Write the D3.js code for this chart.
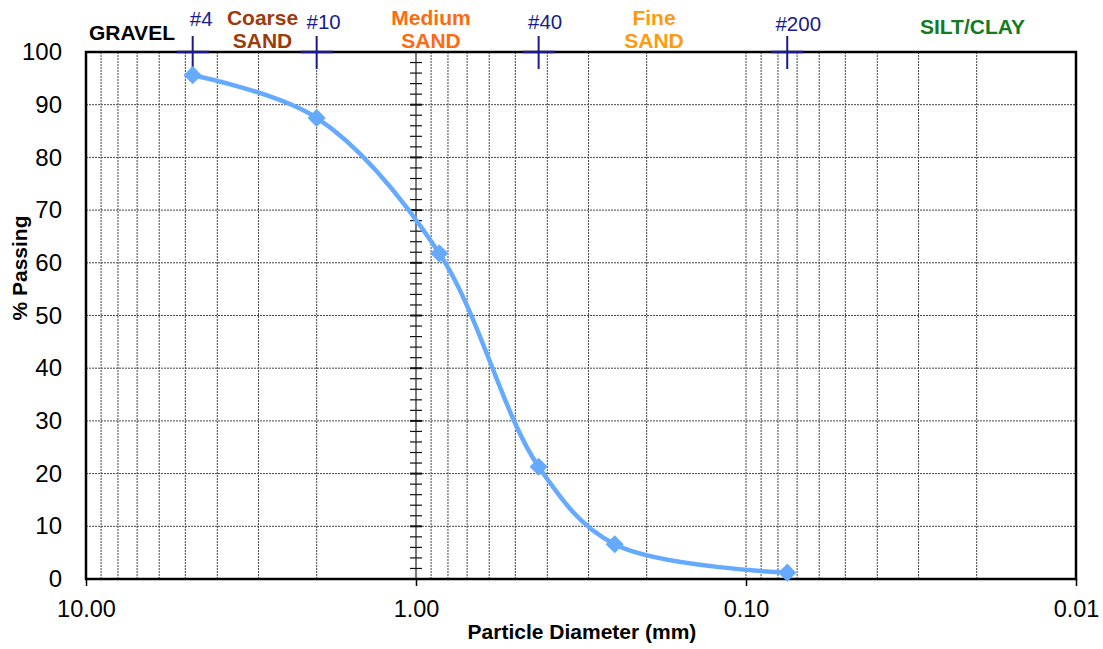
<!DOCTYPE html>
<html>
<head>
<meta charset="utf-8">
<script src="https://cdn.jsdelivr.net/npm/d3@7"></script>
<style>
  body { margin: 0; background: #fff; }
  text { font-family: "Liberation Sans", Arial, sans-serif; }
</style>
</head>
<body>
<svg id="chart" width="1103" height="649"></svg>
<script>
// sieve analysis data
const diameters = [4.75, 2.0, 0.85, 0.425, 0.25, 0.075];
const passing = [95.6, 87.5, 61.8, 21.3, 6.6, 1.2];

const sieveNames = ["#4", "#10", "#40", "#200"];
const sieveSizes = [4.75, 2.0, 0.425, 0.075];

const xTicks = [10, 1, 0.1, 0.01];
const yTicks = d3.range(0, 101, 10);

const svg = d3.select("#chart");
const plotL = 86, plotR = 1076, plotT = 52, plotB = 579;

const x = d3.scaleLog().domain([10, 0.01]).range([plotL, plotR]);
const y = d3.scaleLinear().domain([0, 100]).range([plotB, plotT]);

// minor vertical grid (2..9 of every decade)
const minor = [];
[1, 0.1, 0.01].forEach(dec => {
  for (let k = 1; k <= 9; k++) minor.push(dec * k);
});
const vGrid = minor.filter(v => v < 10 && v > 0.01 && Math.abs(v - 1) > 1e-9);

svg.append("g")
  .selectAll("line")
  .data(vGrid)
  .enter()
  .append("line")
  .attr("x1", d => x(d)).attr("x2", d => x(d))
  .attr("y1", plotT).attr("y2", plotB)
  .attr("stroke", "#444")
  .attr("stroke-width", 1)
  .attr("stroke-dasharray", "2,1");

// horizontal grid
svg.append("g")
  .selectAll("line")
  .data(yTicks.filter(d => d > 0 && d < 100))
  .enter()
  .append("line")
  .attr("x1", plotL).attr("x2", plotR)
  .attr("y1", d => y(d)).attr("y2", d => y(d))
  .attr("stroke", "#444")
  .attr("stroke-width", 1)
  .attr("stroke-dasharray", "2,1");

// vertical line at 1.00 with ticks every 2 %
svg.append("line")
  .attr("x1", x(1)).attr("x2", x(1))
  .attr("y1", plotT).attr("y2", plotB)
  .attr("stroke", "#7a7a7a").attr("stroke-width", 2);

svg.append("g")
  .selectAll("line")
  .data(d3.range(2, 100, 2))
  .enter()
  .append("line")
  .attr("x1", x(1) - 6).attr("x2", x(1) + 6)
  .attr("y1", d => y(d)).attr("y2", d => y(d))
  .attr("stroke", "#111")
  .attr("stroke-width", d => d % 10 === 0 ? 2 : 1.2);

// plot border
svg.append("rect")
  .attr("x", plotL).attr("y", plotT)
  .attr("width", plotR - plotL).attr("height", plotB - plotT)
  .attr("fill", "none").attr("stroke", "#000").attr("stroke-width", 2.5);

// y axis
const yAxis = d3.axisLeft(y).tickValues(yTicks).tickSize(0).tickPadding(24);
svg.append("g")
  .attr("transform", `translate(${plotL},0)`)
  .call(yAxis)
  .call(g => g.select(".domain").remove())
  .selectAll("text")
  .attr("font-size", 24)
  .attr("fill", "#000")
  .attr("font-family", "Liberation Sans, Arial, sans-serif");

// x axis
const xAxis = d3.axisBottom(x).tickValues(xTicks).tickSize(7).tickPadding(14)
  .tickFormat(d3.format(".2f"));
svg.append("g")
  .attr("transform", `translate(0,${plotB})`)
  .call(xAxis)
  .call(g => g.select(".domain").remove())
  .call(g => g.selectAll("line").attr("stroke", "#000").attr("stroke-width", 1.5))
  .selectAll("text")
  .attr("font-size", 23.5)
  .attr("fill", "#000")
  .attr("font-family", "Liberation Sans, Arial, sans-serif");

// axis titles
svg.append("text")
  .attr("x", 582).attr("y", 639)
  .attr("text-anchor", "middle")
  .attr("font-size", 21).attr("font-weight", "bold")
  .text("Particle Diameter (mm)");

svg.append("text")
  .attr("transform", `translate(27,268) rotate(-90)`)
  .attr("text-anchor", "middle")
  .attr("font-size", 21).attr("font-weight", "bold")
  .text("% Passing");

// sieve markers
const sieves = sieveNames.map((n, i) => ({ name: n, size: sieveSizes[i] }));
const sg = svg.append("g");
sg.selectAll(".h")
  .data(sieves).enter().append("line")
  .attr("x1", d => x(d.size) - 16).attr("x2", d => x(d.size) + 16)
  .attr("y1", plotT).attr("y2", plotT)
  .attr("stroke", "#1a1a8c").attr("stroke-width", 2.5);
sg.selectAll(".v")
  .data(sieves).enter().append("line")
  .attr("x1", d => x(d.size)).attr("x2", d => x(d.size))
  .attr("y1", 36).attr("y2", 69)
  .attr("stroke", "#1a1a8c").attr("stroke-width", 2);
sg.selectAll("text")
  .data(sieves).enter().append("text")
  .attr("x", (d, i) => x(d.size) + [8.5, 7, 6.5, 11][i])
  .attr("y", (d, i) => [26, 28.5, 28.5, 31][i])
  .attr("text-anchor", "middle")
  .attr("font-size", 20.5)
  .attr("fill", "#1a1a8c")
  .text(d => d.name);

// soil class labels
const classes = [
  { lines: ["GRAVEL"], x: 132, y: 39.5, color: "#000" },
  { lines: ["Coarse", "SAND"], x: 262.5, y: 25, color: "#9c3c0c" },
  { lines: ["Medium", "SAND"], x: 431, y: 25, color: "#ff6a10" },
  { lines: ["Fine", "SAND"], x: 654, y: 25, color: "#ff9a10" },
  { lines: ["SILT/CLAY"], x: 972.5, y: 33.5, color: "#137a1e" }
];
classes.forEach(c => {
  const t = svg.append("text")
    .attr("text-anchor", "middle")
    .attr("font-size", 21).attr("font-weight", "bold")
    .attr("fill", c.color);
  c.lines.forEach((l, i) => {
    t.append("tspan").attr("x", c.x).attr("y", c.y + i * 23.3).text(l);
  });
});

// gradation curve
const pts = diameters.map((d, i) => [d, passing[i]]);
const line = d3.line()
  .x(d => x(d[0])).y(d => y(d[1]))
  .curve(d3.curveCatmullRom.alpha(0.5));

svg.append("path")
  .datum(pts)
  .attr("d", line)
  .attr("fill", "none")
  .attr("stroke", "#66aaff")
  .attr("stroke-width", 4.5);

svg.append("g")
  .selectAll("path")
  .data(pts)
  .enter()
  .append("path")
  .attr("transform", d => `translate(${x(d[0])},${y(d[1])})`)
  .attr("d", d3.symbol().type(d3.symbolDiamond2).size(210))
  .attr("fill", "#66aaff");
</script>
</body>
</html>
